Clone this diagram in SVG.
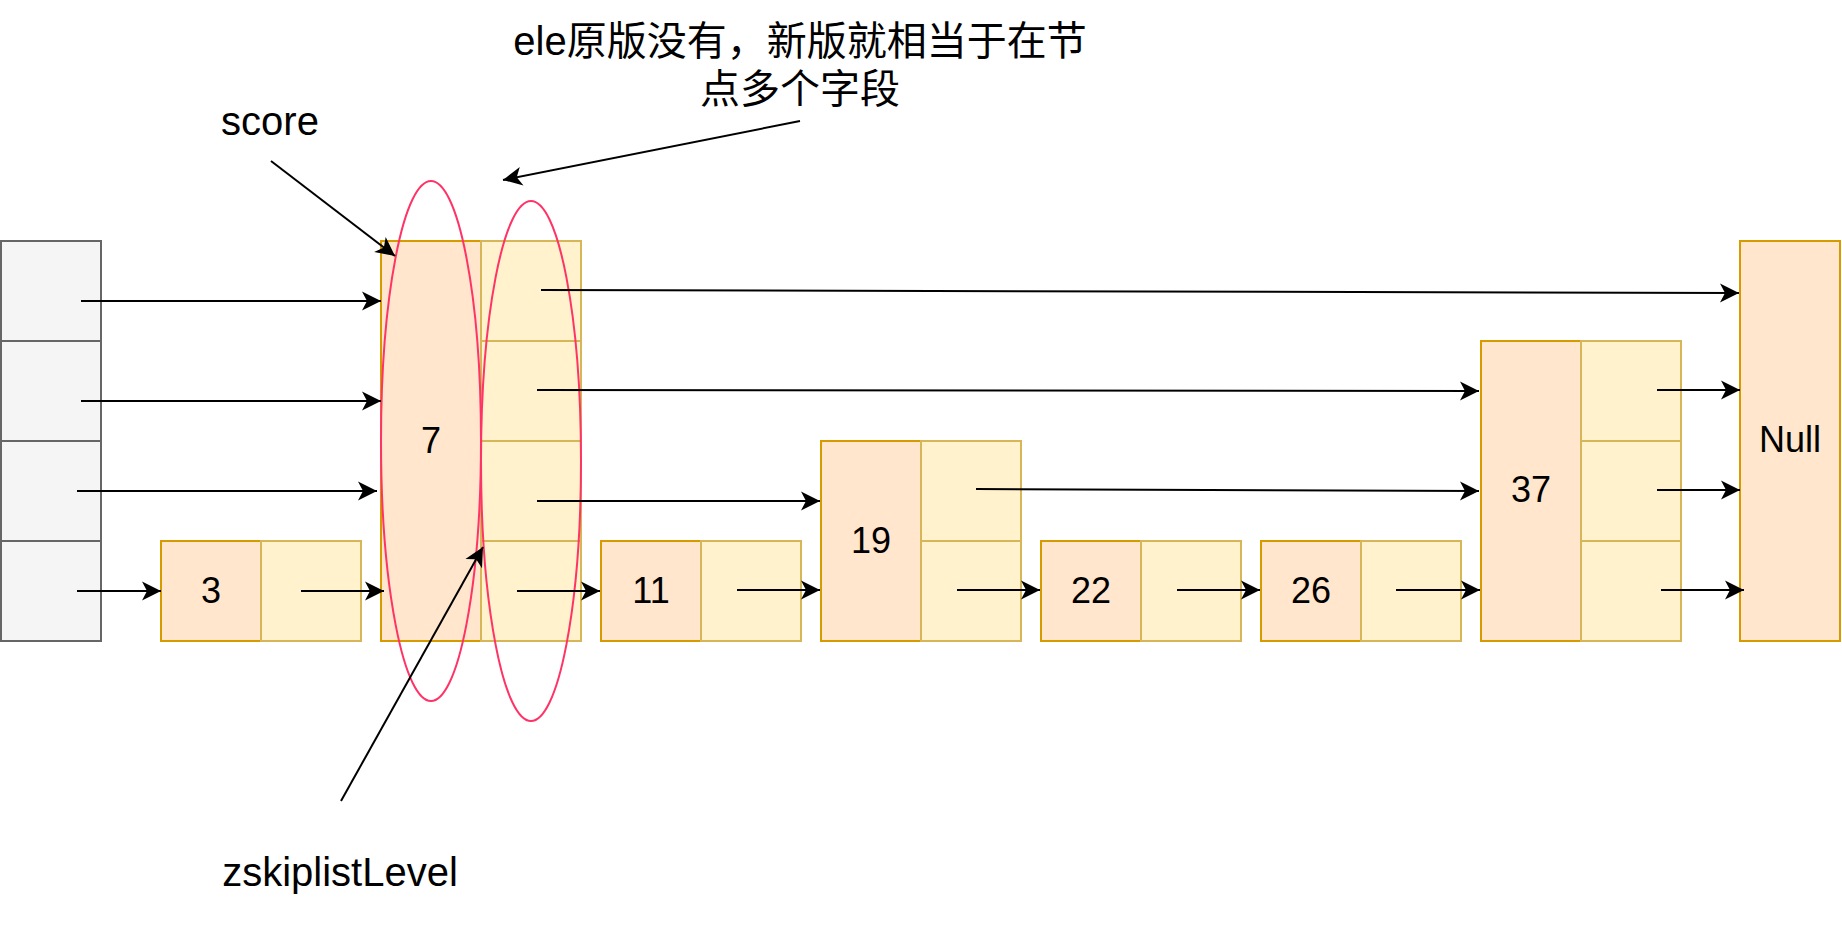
<svg xmlns="http://www.w3.org/2000/svg" width="1842" height="942" viewBox="0 0 1842 942">
<style>
.key{fill:#ffe6cc;stroke:#d79b00;stroke-width:2}
.ptr{fill:#fff2cc;stroke:#d6b656;stroke-width:2}
.gray{fill:#f5f5f5;stroke:#666666;stroke-width:2}
.lbl{font-family:"Liberation Sans","Noto Sans CJK SC",Arial,sans-serif;font-size:36px;fill:#000;text-anchor:middle}
.ann{font-family:"Liberation Sans","Noto Sans CJK SC",Arial,sans-serif;font-size:40px;fill:#000;text-anchor:middle}
.ring{fill:none;stroke:#ff3366;stroke-width:2}
.conn line{stroke:#000;stroke-width:2;fill:none;marker-end:url(#arr)}
</style>
<defs>
<marker id="arr" viewBox="-22 -12 24 24" refX="0" refY="0" markerWidth="24" markerHeight="24" markerUnits="userSpaceOnUse" orient="auto">
<path d="M0,0 L-19,-9.5 L-14,0 L-19,9.5 Z" fill="#000"/>
</marker>
</defs>
<rect width="1842" height="942" fill="#ffffff"/>

<g id="header">
<rect class="gray" x="1" y="241" width="100" height="100"/>
<rect class="gray" x="1" y="341" width="100" height="100"/>
<rect class="gray" x="1" y="441" width="100" height="100"/>
<rect class="gray" x="1" y="541" width="100" height="100"/>
</g>

<g id="node3">
<rect class="key" x="161" y="541" width="100" height="100"/>
<rect class="ptr" x="261" y="541" width="100" height="100"/>
<text class="lbl" x="211" y="603">3</text>
</g>

<g id="node7">
<rect class="key" x="381" y="241" width="100" height="400"/>
<rect class="ptr" x="481" y="241" width="100" height="100"/>
<rect class="ptr" x="481" y="341" width="100" height="100"/>
<rect class="ptr" x="481" y="441" width="100" height="100"/>
<rect class="ptr" x="481" y="541" width="100" height="100"/>
<text class="lbl" x="431" y="453">7</text>
</g>

<g id="node11">
<rect class="key" x="601" y="541" width="100" height="100"/>
<rect class="ptr" x="701" y="541" width="100" height="100"/>
<text class="lbl" x="651" y="603">11</text>
</g>

<g id="node19">
<rect class="key" x="821" y="441" width="100" height="200"/>
<rect class="ptr" x="921" y="441" width="100" height="100"/>
<rect class="ptr" x="921" y="541" width="100" height="100"/>
<text class="lbl" x="871" y="553">19</text>
</g>

<g id="node22">
<rect class="key" x="1041" y="541" width="100" height="100"/>
<rect class="ptr" x="1141" y="541" width="100" height="100"/>
<text class="lbl" x="1091" y="603">22</text>
</g>

<g id="node26">
<rect class="key" x="1261" y="541" width="100" height="100"/>
<rect class="ptr" x="1361" y="541" width="100" height="100"/>
<text class="lbl" x="1311" y="603">26</text>
</g>

<g id="node37">
<rect class="key" x="1481" y="341" width="100" height="300"/>
<rect class="ptr" x="1581" y="341" width="100" height="100"/>
<rect class="ptr" x="1581" y="441" width="100" height="100"/>
<rect class="ptr" x="1581" y="541" width="100" height="100"/>
<text class="lbl" x="1531" y="502">37</text>
</g>

<g id="nodeNull">
<rect class="key" x="1740" y="241" width="100" height="400"/>
<text class="lbl" x="1790" y="452">Null</text>
</g>

<g id="rings">
<ellipse class="ring" cx="431" cy="441" rx="50" ry="260"/>
<ellipse class="ring" cx="531" cy="461" rx="50" ry="260"/>
</g>

<g id="label-score"><text class="ann" x="270" y="135">score</text></g>
<g id="label-ele">
<text class="ann" x="800" y="55">ele原版没有，新版就相当于在节</text>
<text class="ann" x="800" y="103">点多个字段</text>
</g>
<g id="label-level"><text class="ann" x="340" y="886">zskiplistLevel</text></g>

<g id="connectors" class="conn">
<line x1="81" y1="301" x2="381" y2="301"/>
<line x1="81" y1="401" x2="381" y2="401"/>
<line x1="77" y1="491" x2="377" y2="491"/>
<line x1="77" y1="591" x2="161" y2="591"/>
<line x1="301" y1="591" x2="384" y2="591"/>
<line x1="541" y1="290" x2="1739" y2="293"/>
<line x1="537" y1="390" x2="1479" y2="391"/>
<line x1="537" y1="501" x2="820" y2="501"/>
<line x1="517" y1="591" x2="600" y2="591"/>
<line x1="737" y1="590" x2="820" y2="590"/>
<line x1="976" y1="489" x2="1479" y2="491"/>
<line x1="957" y1="590" x2="1040" y2="590"/>
<line x1="1177" y1="590" x2="1260" y2="590"/>
<line x1="1396" y1="590" x2="1480" y2="590"/>
<line x1="1657" y1="390" x2="1740" y2="390"/>
<line x1="1657" y1="490" x2="1740" y2="490"/>
<line x1="1661" y1="590" x2="1744" y2="590"/>
<line x1="271" y1="161" x2="395" y2="256"/>
<line x1="800" y1="121" x2="503" y2="180"/>
<line x1="341" y1="801" x2="483" y2="547"/>
</g>
</svg>
